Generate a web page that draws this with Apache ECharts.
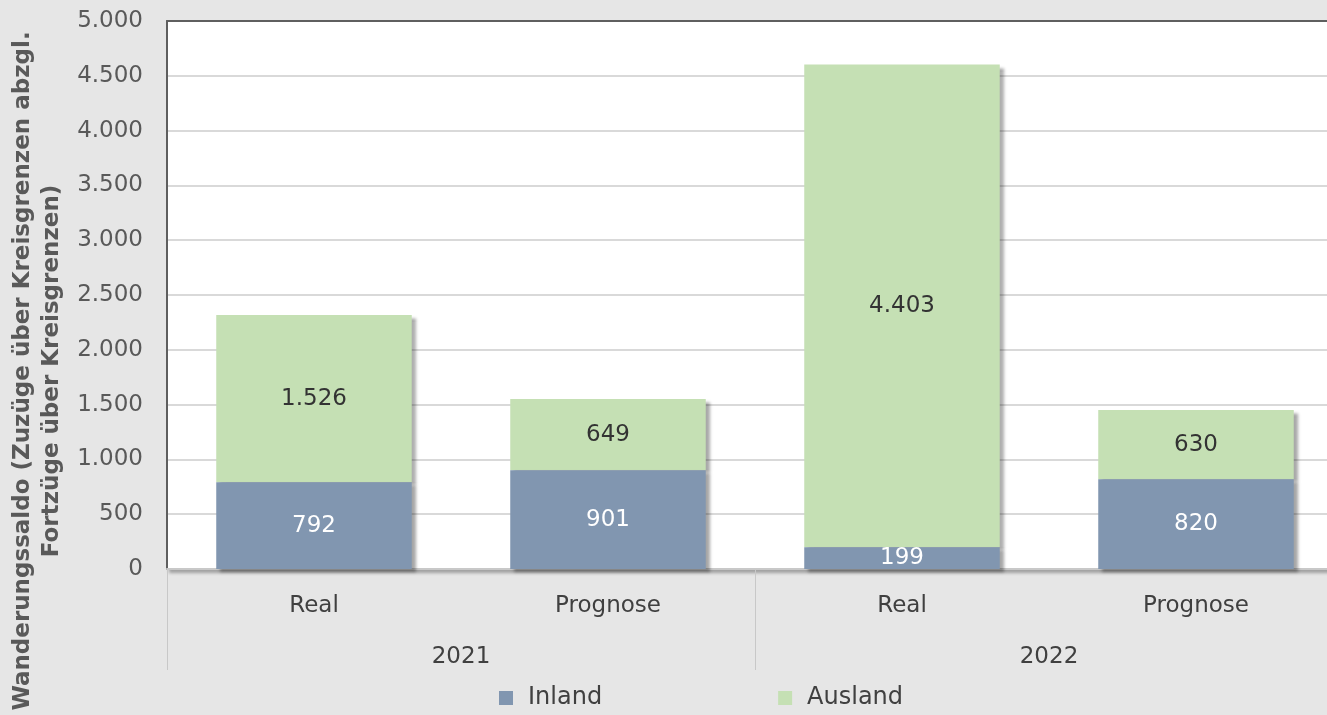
<!DOCTYPE html>
<html>
<head>
<meta charset="utf-8">
<script src="https://cdn.jsdelivr.net/npm/echarts@6/dist/echarts.min.js"></script>
<style>
  html, body { margin: 0; padding: 0; background: #e6e6e6; }
  #chart { width: 1327px; height: 715px; }
</style>
</head>
<body>
<div id="chart"></div>
<script>
  // Wanderungssaldo nach Herkunft, Real vs. Prognose
  const categories = ['Real', 'Prognose', 'Real', 'Prognose']
  const years = ['2021', '2022']
  const inland = [792, 901, 199, 820]
  const ausland = [1526, 649, 4403, 630]
  const yTicks = { min: 0, max: 5000, interval: 500 }

  const fontFamily = '"DejaVu Sans", Verdana, sans-serif'
  const fmt = v => String(v).replace(/\B(?=(\d{3})+(?!\d))/g, '.')

  const barShadow = {
    shadowColor: 'rgba(0,0,0,0.35)',
    shadowBlur: 3,
    shadowOffsetX: 4,
    shadowOffsetY: 3
  }

  const chart = echarts.init(document.getElementById('chart'), null, { renderer: 'canvas' })

  const option = {
    backgroundColor: '#e6e6e6',
    textStyle: { fontFamily: fontFamily },
    animation: false,
    grid: {
      left: 167,
      top: 21,
      width: 1176,
      height: 548,
      outerBoundsMode: 'none',
      containLabel: false,
      show: true,
      backgroundColor: '#ffffff',
      borderWidth: 0,
      shadowColor: 'rgba(0,0,0,0.3)',
      shadowBlur: 3,
      shadowOffsetX: 2,
      shadowOffsetY: 4
    },
    legend: {
      left: 494,
      top: 681,
      icon: 'rect',
      itemWidth: 14,
      itemHeight: 14,
      itemGap: 176,
      textStyle: { fontSize: 24, color: '#404040', fontFamily: fontFamily, padding: [0, 0, 0, 10] },
      data: ['Inland', 'Ausland']
    },
    xAxis: [
      {
        type: 'category',
        data: categories,
        axisLine: { show: true, lineStyle: { color: '#c8c8c8', width: 2 } },
        axisTick: { show: false },
        axisLabel: { margin: 26, fontSize: 23, color: '#404040', interval: 0 }
      },
      {
        type: 'category',
        data: years,
        position: 'bottom',
        axisLine: { show: false },
        axisTick: {
          show: true,
          interval: 0,
          length: 101,
          lineStyle: { color: '#c8c8c8', width: 1 }
        },
        axisLabel: { margin: 77, fontSize: 23, color: '#404040', interval: 0 },
        splitLine: { show: false }
      },
      {
        // top frame line of the plot area
        type: 'category',
        data: categories,
        position: 'top',
        axisLine: { show: true, lineStyle: { color: '#5f5f5f', width: 2 } },
        axisTick: { show: false },
        axisLabel: { show: false },
        splitLine: { show: false }
      }
    ],
    yAxis: {
      type: 'value',
      min: yTicks.min,
      max: yTicks.max,
      interval: yTicks.interval,
      name: 'Wanderungssaldo (Zuzüge über Kreisgrenzen abzgl.\nFortzüge über Kreisgrenzen)',
      nameLocation: 'middle',
      nameRotate: 90,
      nameGap: 80,
      nameTextStyle: {
        fontSize: 23,
        fontWeight: 'bold',
        color: '#595959',
        lineHeight: 29,
        align: 'center',
        padding: [0, 152, 0, 0]
      },
      axisLine: { show: true, lineStyle: { color: '#5f5f5f', width: 2 } },
      axisTick: { show: false },
      axisLabel: {
        margin: 24,
        fontSize: 23,
        color: '#595959',
        formatter: fmt
      },
      splitLine: {
        showMaxLine: false,
        showMinLine: false,
        lineStyle: { color: '#d9d9d9', width: 2 }
      }
    },
    series: [
      {
        name: 'Inland',
        type: 'bar',
        stack: 'total',
        barWidth: '66.5%',
        z: 3,
        data: inland,
        itemStyle: Object.assign({ color: '#8196b0' }, barShadow),
        label: {
          show: true,
          position: 'inside',
          fontSize: 23,
          color: '#ffffff',
          formatter: p => fmt(p.value)
        }
      },
      {
        name: 'Ausland',
        type: 'bar',
        stack: 'total',
        z: 2,
        data: ausland,
        itemStyle: Object.assign({ color: '#c5e0b4' }, barShadow),
        label: {
          show: true,
          position: 'inside',
          fontSize: 23,
          color: '#333333',
          formatter: p => fmt(p.value)
        }
      }
    ]
  }

  chart.setOption(option)
</script>
</body>
</html>
